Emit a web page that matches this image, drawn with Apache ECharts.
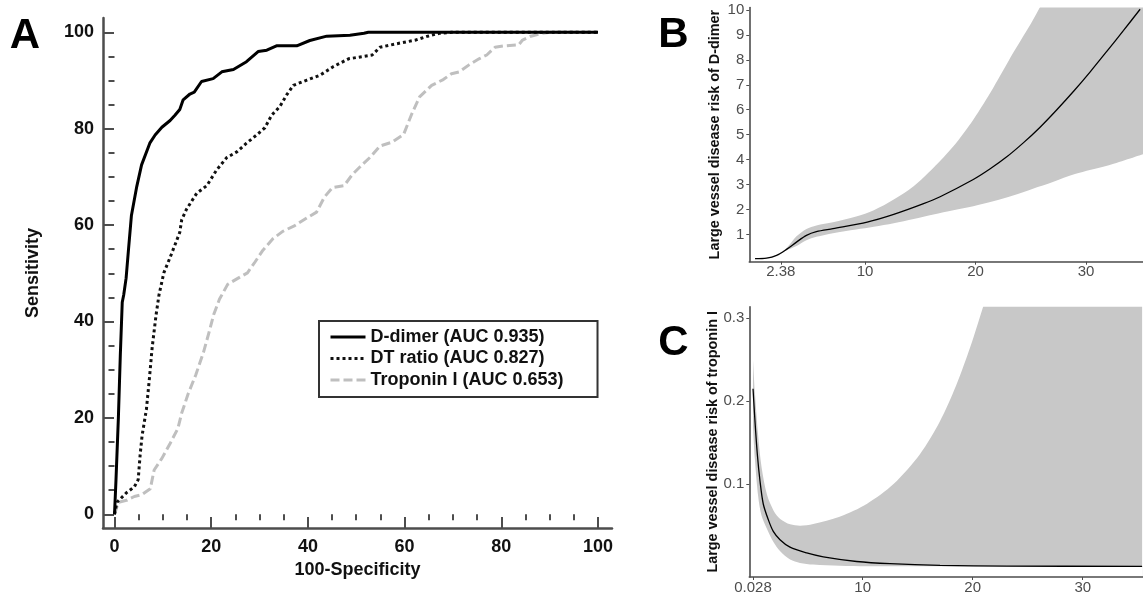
<!DOCTYPE html>
<html><head><meta charset="utf-8">
<script src="https://cdn.jsdelivr.net/npm/echarts@6/dist/echarts.min.js"></script>
<style>html,body{margin:0;padding:0;background:#fff}#c{width:1143px;height:595px}</style>
</head><body><div id="c"></div>
<script>
// ---- Panel A: ROC curves ----
const rocMajorTicks = [0, 20, 40, 60, 80, 100];
const rocMinorTicks = [5, 10, 15, 25, 30, 35, 45, 50, 55, 65, 70, 75, 85, 90, 95];
const rocNames = ['D-dimer (AUC 0.935)', 'DT ratio (AUC 0.827)', 'Troponin I (AUC 0.653)'];

const ddimerFpr  = [0, 0.3, 0.8, 1.2, 1.6, 1.9, 2.4, 2.9, 3.5, 4.6, 5.6, 7.3, 8.4, 9.8, 11.5, 12.5, 13.5, 14.2, 15.6, 16.5, 18, 20.4, 22.2, 24.6, 27.3, 29.7, 31.5, 33.5, 37.7, 40.4, 43.9, 48.7, 51.6, 52.5, 100];
const ddimerSens = [0, 7, 20, 33, 44, 45.5, 49, 55, 62, 68, 72.5, 77, 78.7, 80.3, 81.7, 82.8, 84, 86, 87.2, 87.6, 89.8, 90.4, 91.8, 92.3, 93.9, 96, 96.3, 97.2, 97.2, 98.3, 99.2, 99.4, 99.8, 100, 100];

const dtFpr  = [0, 0.5, 2.5, 4.1, 4.9, 5.3, 5.7, 6.6, 7.2, 7.8, 8.6, 9.2, 10.2, 11.5, 12.7, 13.5, 13.9, 14.9, 17, 19.1, 21.1, 23.2, 25.3, 27.3, 29.4, 31.1, 32.5, 34.2, 35.6, 37, 39.8, 42.5, 45.3, 48.4, 53.3, 54.9, 58.2, 62.3, 64.8, 67.2, 69.7, 100];
const dtSens = [0, 2.5, 4.5, 5.7, 7.2, 12.3, 16.3, 21.8, 28, 34.7, 41.4, 45.5, 50.1, 53.3, 56.4, 58.5, 61.1, 63.3, 66.6, 68.2, 71.4, 74, 75.2, 77, 78.7, 80.2, 82.8, 84.6, 87, 89, 90.1, 91.1, 92.9, 94.5, 95.3, 96.9, 97.6, 98.4, 99.2, 99.8, 100, 100];

const tropFpr  = [0, 0.8, 2.5, 4.1, 5.7, 7.4, 8.2, 9.8, 11.5, 13.1, 13.9, 15.2, 16.8, 18.4, 19.7, 20.5, 21.7, 23.4, 25.4, 27.5, 29.1, 30.7, 32.8, 34.8, 37.3, 39.8, 41.8, 43.4, 45.1, 47.5, 49.2, 50.8, 52.9, 54.9, 57.4, 59.8, 61.5, 63.1, 65.6, 68, 69.7, 71.3, 73.4, 75.4, 77, 78.7, 80.7, 83.6, 84.4, 86.1, 88.5, 90.2, 100];
const tropSens = [0, 2.5, 2.9, 3.7, 4.1, 5.3, 9.2, 11.6, 14.7, 17.8, 21, 24.9, 28.9, 33.6, 38.3, 41.4, 44.6, 47.7, 48.9, 50.1, 52.4, 54.8, 57.2, 58.7, 59.9, 61.5, 62.7, 65.8, 67.8, 68.2, 70.5, 72.1, 74.1, 76.4, 77.2, 78.8, 83.1, 86.6, 89, 90.2, 91.4, 91.8, 93.3, 94.5, 95.3, 96.9, 97.2, 97.4, 98.4, 99.2, 99.8, 100, 100];

// ---- Panel B: D-dimer spline ----
const bTicksX = [2.38, 10, 20, 30];
const bTicksY = [1, 2, 3, 4, 5, 6, 7, 8, 9, 10];
const bLineX = [0.05, 1.1, 2.0, 2.9, 3.8, 4.7, 5.6, 7.1, 10.2, 12.6, 15.3, 16.8, 19.8, 21.3, 22.8, 24.3, 25.8, 27.3, 28.9, 30.4, 31.9, 33.4, 34.9];
const bLineY = [0.03, 0.05, 0.16, 0.4, 0.69, 0.96, 1.11, 1.23, 1.49, 1.8, 2.23, 2.51, 3.2, 3.62, 4.1, 4.66, 5.28, 5.97, 6.75, 7.53, 8.35, 9.18, 10.03];
const bBandX = [0.05, 1, 2, 2.9, 3.8, 4.7, 5.6, 7.1, 9.2, 10.8, 12.6, 14.4, 16.2, 18, 19.8, 21.6, 23.4, 25.2, 27, 29, 31.9, 35.2];
const bLower = [0.03, 0.05, 0.15, 0.36, 0.53, 0.76, 0.9, 1.05, 1.2, 1.31, 1.45, 1.62, 1.8, 1.97, 2.13, 2.33, 2.56, 2.83, 3.1, 3.42, 3.75, 4.22];
const bUpper = [0.03, 0.05, 0.17, 0.45, 0.92, 1.22, 1.36, 1.49, 1.72, 1.97, 2.4, 2.93, 3.67, 4.53, 5.6, 6.87, 8.27, 9.6, 11.1, 12.9, 15.8, 19.5];

// ---- Panel C: troponin I spline ----
const cTicksX = [0.028, 10, 20, 30];
const cTicksY = [0.1, 0.2, 0.3];
const cLineX = [0.028, 0.21, 0.42, 0.66, 0.96, 1.42, 1.87, 2.48, 3.39, 4.91, 6.42, 9.45, 12.48, 17.03, 23.1, 35.4];
const cLineY = [0.215, 0.175, 0.136, 0.104, 0.076, 0.057, 0.043, 0.033, 0.024, 0.017, 0.0123, 0.0067, 0.004, 0.002, 0.0012, 0.0008];
const cBandX = [0.028, 0.2, 0.5, 0.8, 1.3, 1.9, 2.5, 3.4, 4.3, 5.5, 7.9, 10.4, 12.8, 15.2, 17, 18.5, 19.8, 21, 23, 26, 30, 35.4];
const cLower = [0.17, 0.13, 0.085, 0.062, 0.046, 0.03, 0.019, 0.009, 0.005, 0.003, 0.0015, 0.001, 0.001, 0.001, 0.001, 0.001, 0.001, 0.001, 0.001, 0.001, 0.001, 0.001];
const cUpper = [0.25, 0.21, 0.158, 0.121, 0.087, 0.068, 0.058, 0.0515, 0.0499, 0.052, 0.0606, 0.0764, 0.1, 0.136, 0.175, 0.219, 0.266, 0.316, 0.4, 0.55, 0.8, 1.2];

const zip = (xs, ys) => xs.map((x, i) => [x, ys[i]]);
const FONT = '"Liberation Sans", Arial, sans-serif';
const AX = '#4d4d4d';
const BAND = '#c8c8c8';

function rocLine(name, xs, ys, color, type) {
  return { name, type: 'line', xAxisIndex: 0, yAxisIndex: 0, data: zip(xs, ys),
    symbol: 'none', lineStyle: { color, width: 3, type }, itemStyle: { color }, z: 3 };
}
// confidence band: grey area under the upper bound, white area under the lower bound
function bandSeries(xi, yi, xs, lower, upper) {
  return [
    { type: 'line', xAxisIndex: xi, yAxisIndex: yi, data: zip(xs, upper), symbol: 'none', smooth: 0.3,
      lineStyle: { width: 0, opacity: 0 }, areaStyle: { color: BAND, opacity: 1, origin: 'start' }, silent: true, z: 1 },
    { type: 'line', xAxisIndex: xi, yAxisIndex: yi, data: zip(xs, lower), symbol: 'none', smooth: 0.3,
      lineStyle: { width: 0, opacity: 0 }, areaStyle: { color: '#fff', opacity: 1, origin: 'start' }, silent: true, z: 1 }
  ];
}
function smallAxis(gi, min, max, ticks, isY, name) {
  const a = { gridIndex: gi, type: 'value', min, max, z: 5,
    axisLine: { show: true, onZero: false, lineStyle: { color: AX, width: 1.6 } },
    axisTick: { show: true, inside: false, length: 3, customValues: ticks, lineStyle: { color: AX, width: 1 } },
    axisLabel: { customValues: ticks, color: AX, fontSize: 15, fontFamily: FONT, margin: isY ? 5 : 3 },
    splitLine: { show: false } };
  if (name) {
    a.name = name; a.nameLocation = 'middle'; a.nameGap = 27;
    a.nameTextStyle = { fontFamily: FONT, fontWeight: 'bold', fontSize: 14.4, color: '#111' };
  }
  return a;
}

const chart = echarts.init(document.getElementById('c'), null, { renderer: 'canvas' });
chart.setOption({
  animation: false,
  backgroundColor: '#fff',
  textStyle: { fontFamily: FONT },
  grid: [
    { left: 103, top: 18, width: 509, height: 510 },
    { left: 749.3, top: 7.5, width: 393.7, height: 254.2 },
    { left: 749.3, top: 306.7, width: 393.7, height: 274.3 }
  ],
  xAxis: [
    { gridIndex: 0, type: 'value', min: -2.38, max: 102.9,
      axisLine: { show: true, onZero: false, lineStyle: { color: AX, width: 2.5 } },
      axisTick: { show: true, inside: true, length: 11, customValues: rocMajorTicks, lineStyle: { color: AX, width: 2 } },
      axisLabel: { customValues: rocMajorTicks, fontSize: 18, fontWeight: 'bold', color: '#111', fontFamily: FONT, margin: 10 },
      splitLine: { show: false },
      name: '100-Specificity', nameLocation: 'middle', nameGap: 33,
      nameTextStyle: { fontSize: 18, fontWeight: 'bold', color: '#111', fontFamily: FONT } },
    { gridIndex: 0, type: 'value', min: -2.38, max: 102.9,
      axisLine: { show: false },
      axisTick: { show: true, inside: true, length: 6, customValues: rocMinorTicks, lineStyle: { color: AX, width: 2 } },
      axisLabel: { show: false }, splitLine: { show: false } },
    smallAxis(1, -0.47, 35.16, bTicksX, false),
    smallAxis(2, -0.31, 35.48, cTicksX, false)
  ],
  yAxis: [
    { gridIndex: 0, type: 'value', min: -2.84, max: 102.97,
      axisLine: { show: true, onZero: false, lineStyle: { color: AX, width: 2.5 } },
      axisTick: { show: true, inside: true, length: 11, customValues: rocMajorTicks, lineStyle: { color: AX, width: 2 } },
      axisLabel: { customValues: rocMajorTicks, fontSize: 18, fontWeight: 'bold', color: '#111', fontFamily: FONT, margin: 9 },
      splitLine: { show: false },
      name: 'Sensitivity', nameLocation: 'middle', nameGap: 61,
      nameTextStyle: { fontSize: 18, fontWeight: 'bold', color: '#111', fontFamily: FONT } },
    { gridIndex: 0, type: 'value', min: -2.84, max: 102.97,
      axisLine: { show: false },
      axisTick: { show: true, inside: true, length: 6, customValues: rocMinorTicks, lineStyle: { color: AX, width: 2 } },
      axisLabel: { show: false }, splitLine: { show: false } },
    smallAxis(1, -0.096, 10.1, bTicksY, true, 'Large vessel disease risk of D-dimer'),
    smallAxis(2, -0.012, 0.3138, cTicksY, true, 'Large vessel disease risk of troponin I')
  ],
  legend: {
    data: rocNames, orient: 'vertical', left: 319, top: 321,
    borderColor: '#333', borderWidth: 2, backgroundColor: '#fff',
    padding: [7, 34, 8, 10], itemWidth: 35, itemHeight: 14, itemGap: 3.5, itemTextGap: 9,
    itemStyle: { opacity: 0 },
    lineStyle: { width: 3 },
    textStyle: { fontSize: 18, fontWeight: 'bold', color: '#111', fontFamily: FONT },
    selectedMode: false
  },
  series: [
    rocLine(rocNames[2], tropFpr, tropSens, '#bfbfbf', [9, 4]),
    rocLine(rocNames[1], dtFpr, dtSens, '#111', 'dotted'),
    rocLine(rocNames[0], ddimerFpr, ddimerSens, '#000', 'solid'),
    ...bandSeries(2, 2, bBandX, bLower, bUpper),
    { type: 'line', xAxisIndex: 2, yAxisIndex: 2, data: zip(bLineX, bLineY), symbol: 'none', smooth: 0.3,
      lineStyle: { color: '#000', width: 1.3 }, z: 3 },
    ...bandSeries(3, 3, cBandX, cLower, cUpper),
    { type: 'line', xAxisIndex: 3, yAxisIndex: 3, data: zip(cLineX, cLineY), symbol: 'none', smooth: 0.3,
      lineStyle: { color: '#000', width: 1.3 }, z: 3 }
  ],
  graphic: [
    { type: 'text', x: 25, y: 36, style: { text: 'A', font: 'bold 42px ' + FONT, fill: '#000', align: 'center', verticalAlign: 'middle' } },
    { type: 'text', x: 673.5, y: 35.5, style: { text: 'B', font: 'bold 42px ' + FONT, fill: '#000', align: 'center', verticalAlign: 'middle' } },
    { type: 'text', x: 673.5, y: 343.5, style: { text: 'C', font: 'bold 42px ' + FONT, fill: '#000', align: 'center', verticalAlign: 'middle' } }
  ]
});
</script>
</body></html>
